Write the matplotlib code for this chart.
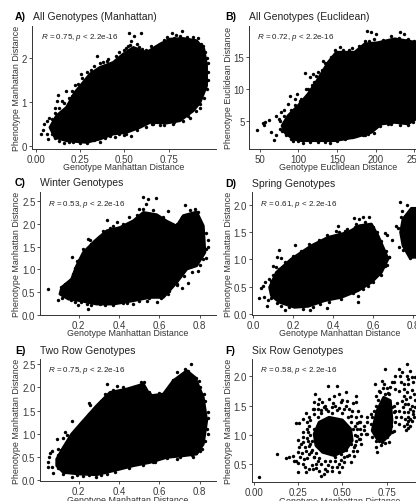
import matplotlib
matplotlib.use("Agg")
import matplotlib.pyplot as plt

W, H = 416, 502
plt.rcParams['font.family'] = ['Liberation Sans', 'DejaVu Sans']
plt.rcParams['mathtext.fontset'] = 'custom'
plt.rcParams['mathtext.it'] = 'Liberation Sans:italic'
plt.rcParams['mathtext.rm'] = 'Liberation Sans'

# Dense core outlines (x, y), plus separately visible points
a_core = [(.081,.426),(.118,.692),(.174,.882),(.221,1.224),(.268,1.452),(.306,1.643),(.362,1.795),(.437,1.909),(.493,2.099),(.55,2.251),(.625,2.137),(.70,2.327),(.756,2.441),(.831,2.456),(.906,2.403),(.947,2.213),(.962,1.833),(.962,1.376),(.925,.996),(.887,.806),(.812,.578),(.737,.525),(.644,.54),(.587,.426),(.512,.312),(.437,.274),(.362,.16),(.287,.084),(.174,.122),(.109,.198)]
a_pts = [(.028,.28),(.04,.37),(.05,.50),(.062,.58),(.068,.16),(.062,.27),(.075,.63),(.109,.88),(.122,1.03),(.146,1.02),(.128,1.16),(.169,1.26),(.203,1.15),(.221,1.39),(.255,1.64),(.31,1.74),(.343,2.06),(.381,1.91),(.40,1.95),(.475,2.02),(.527,2.57),(.555,2.52),(.591,2.57),(.537,2.40),(.522,2.29),(.508,2.23),(.568,2.33),(.597,2.21),(.649,2.29),(.69,2.14),(.765,2.57),(.79,2.53),(.824,2.62),(.887,2.48),(.916,2.46),(.944,2.29),(.966,2.02),(.287,.06),(.161,.07),(.133,.12),(.212,.10),(.362,.10),(.447,.21),(.497,.25),(.535,.22),(.653,.50),(.70,.48),(.775,.50),(.869,.65),(.925,.88),
(.09,.62),(.11,.76),(.13,.86),(.16,.98),(.19,1.1),(.205,1.25),(.24,1.42),(.26,1.56),(.29,1.68),(.33,1.83),(.36,1.9),(.41,1.98),(.45,2.05),(.47,2.14),(.50,2.2),(.53,2.3),(.58,2.25),(.62,2.2),(.67,2.27),(.72,2.42),(.74,2.5),(.78,2.47),(.81,2.52),(.85,2.5),(.89,2.43),(.93,2.33),(.955,2.15),(.968,1.9),(.97,1.7),(.972,1.5),(.965,1.3),(.945,1.1),(.925,.95),(.90,.8),(.86,.68),(.83,.58),(.78,.54),(.72,.47),(.66,.5),(.62,.44),(.57,.37),(.51,.27),(.47,.27),(.42,.22),(.39,.18),(.33,.14),(.25,.08),(.19,.09),(.11,.19),(.09,.28)]

b_core = [(78.9,4.22),(86.6,5.78),(99.6,7.34),(112.5,9.17),(125.4,11.5),(138.4,14.1),(149.1,15.7),(172.8,15.7),(185.8,17),(203,17.2),(224.6,17.8),(254.7,17.2),(262,17.2),(262,6),(241.8,4.5),(224.6,4.74),(207.3,4.48),(194.4,3.18),(172.8,2.4),(147,1.88),(125.4,1.88),(103.9,1.88),(93.1,2.14),(82.3,3.18)]
b_pts = [(47,3.6),(54,4.6),(57,4.8),(55.6,4.4),(62,5.05),(65,3.3),(68,2),(71.5,2.8),(71.5,5.7),(74.6,5.2),(78,6.3),(81.5,6.7),(86.6,7.6),(89.7,8.8),(96,8.4),(98.7,9.2),(101.7,8.1),(108,12.5),(110,9.9),(114.6,11.9),(119,12.3),(120,11),(125.4,12.6),(132,14.4),(129,11.3),(134,11.5),(138,13),(153.4,16.5),(166,16),(189,19),(194,18.8),(200,18.5),(192,17.5),(183,16.5),(231,18.8),(236.6,18.6),(242,17.8),(246,17),(106,1.5),(140.5,1.5),(93,1.9),(125,1.7),(183.6,2.8),(190,3),(99.6,2.1),(242,4.3),(216,4.5),(84.5,2.9),(79,3.4),
(76,4.9),(82,5.8),(90,6.6),(95,7.4),(104,8.4),(112,10),(118,10.6),(123,12),(130,12.9),(135,14),(142,15),(148,16.1),(158,16.1),(170,16.4),(178,16.6),(186,17.5),(198,17.8),(210,17.6),(220,18.2),(230,18),(240,17.6),(250,17.5),(248,4.8),(232,4.4),(220,4.5),(205,4.1),(198,3.1),(186,2.8),(170,2.4),(160,2.1),(150,1.8),(135,1.6),(115,1.7),(100,1.8),(90,2.2),(84,2.8),(76,3.7)]

c_core = [(.116,.60),(.165,.784),(.19,1.077),(.223,1.37),(.281,1.626),(.339,1.846),(.405,1.919),(.471,2.066),(.521,2.25),(.587,2.2),(.636,2.06),(.686,1.95),(.719,2.18),(.785,2.26),(.818,1.956),(.826,1.37),(.785,1.077),(.736,1.004),(.686,.711),(.62,.381),(.554,.381),(.471,.308),(.372,.234),(.289,.234),(.207,.308),(.149,.344),(.107,.454)]
c_pts = [(.046,.557),(.096,.322),(.119,.366),(.124,.637),(.169,1.267),(.19,1.187),(.182,.271),(.198,.22),(.246,.125),(.243,.234),(.248,1.663),(.256,1.64),(.339,2.088),(.388,2.05),(.355,1.897),(.517,2.579),(.545,2.542),(.582,2.564),(.534,2.432),(.521,2.32),(.57,2.31),(.645,2.286),(.62,2.14),(.727,2.418),(.777,2.322),(.802,1.993),(.843,1.648),(.831,1.443),(.815,1.223),(.793,.967),(.744,.696),(.711,.579),(.686,.674),(.67,.784),(.702,.857),(.645,.454),(.587,.271),(.537,.308),(.471,.234),(.421,.256),(.306,.234),(.372,.212),(.438,.308),
(.11,.62),(.13,.68),(.15,.72),(.17,.9),(.18,1.02),(.2,1.2),(.22,1.45),(.26,1.56),(.3,1.7),(.32,1.85),(.37,1.95),(.42,2.0),(.45,2.15),(.49,2.2),(.5,2.33),(.55,2.2),(.6,2.15),(.65,2.0),(.69,2.0),(.71,2.15),(.75,2.3),(.79,2.25),(.81,1.9),(.83,1.8),(.84,1.5),(.83,1.25),(.8,1.1),(.76,.95),(.72,.85),(.69,.65),(.65,.52),(.61,.37),(.55,.36),(.5,.3),(.44,.26),(.33,.22),(.26,.22),(.21,.27),(.16,.32),(.12,.42)]

d_core = [(.083,.488),(.117,.762),(.192,1.006),(.292,1.25),(.375,1.402),(.475,1.494),(.533,1.616),(.592,1.646),(.625,1.433),(.658,1.159),(.675,1.006),(.642,.762),(.592,.579),(.525,.427),(.442,.305),(.358,.244),(.275,.14),(.208,.122),(.133,.213),(.092,.335)]
d_core2 = [(.75,1.738),(.792,1.933),(.825,1.933),(.908,1.92),(.908,1.037),(.825,1.037),(.783,1.037),(.75,1.25),(.738,1.494)]
d_pts = [(.032,.293),(.042,.47),(.05,.518),(.058,.591),(.055,.305),(.072,.152),(.075,.256),(.078,.64),(.1,.884),(.117,.854),(.12,1.037),(.13,1.17),(.142,1.024),(.208,1.262),(.138,.152),(.162,.073),(.283,.073),(.372,.11),(.333,.183),(.425,1.604),(.458,1.524),(.417,1.524),(.503,1.762),(.528,1.738),(.55,1.78),(.578,1.768),(.517,1.646),(.658,1.476),(.67,1.451),(.695,1.354),(.678,1.037),(.658,.884),(.525,.213),(.525,.335),(.575,.518),(.737,2.043),(.772,2),(.717,1.616),(.725,1.567),(.728,1.22),(.75,1.171),(.783,1.018),(.747,1.89),(.742,1.768),(.767,1.19),
(.088,.6),(.1,.72),(.13,.83),(.16,.95),(.2,1.07),(.24,1.15),(.28,1.28),(.33,1.35),(.37,1.45),(.43,1.5),(.47,1.55),(.51,1.6),(.56,1.68),(.6,1.6),(.62,1.5),(.64,1.33),(.665,1.15),(.68,1.05),(.67,.9),(.64,.72),(.6,.58),(.55,.46),(.5,.38),(.44,.28),(.38,.22),(.3,.13),(.25,.1),(.18,.12),(.12,.2),(.09,.3)]

e_core = [(.091,.453),(.124,.705),(.165,.993),(.223,1.281),(.289,1.604),(.355,1.892),(.438,1.964),(.521,2.072),(.554,1.82),(.62,1.856),(.669,2.144),(.736,2.36),(.777,2.216),(.818,1.784),(.835,1.281),(.818,.777),(.785,.561),(.719,.525),(.636,.489),(.554,.381),(.471,.309),(.372,.201),(.289,.115),(.207,.129),(.124,.165),(.091,.309)]
e_pts = [(.046,.381),(.053,.489),(.058,.576),(.066,.633),(.046,.288),(.066,.273),(.074,.151),(.099,.669),(.091,.885),(.124,.899),(.132,1.029),(.169,1.281),(.14,.971),(.251,1.655),(.256,1.626),(.339,2.072),(.388,2.036),(.509,2.108),(.524,2.108),(.554,1.856),(.595,1.835),(.686,2.324),(.727,2.396),(.755,2.504),(.795,2.129),(.821,1.856),(.843,1.46),(.843,.993),(.81,.669),(.769,.504),(.165,.072),(.286,.072),(.339,.129),(.223,.094),(.57,.381),(.686,.453),
(.095,.55),(.11,.65),(.14,.8),(.16,.92),(.19,1.13),(.21,1.24),(.25,1.42),(.27,1.52),(.31,1.7),(.33,1.85),(.37,1.95),(.42,2.0),(.47,1.98),(.51,2.05),(.55,1.9),(.6,1.88),(.64,1.95),(.67,2.17),(.71,2.25),(.74,2.35),(.78,2.2),(.8,2.0),(.825,1.7),(.84,1.35),(.835,1.1),(.825,.85),(.8,.63),(.76,.54),(.7,.5),(.64,.47),(.58,.4),(.52,.33),(.45,.27),(.38,.18),(.31,.11),(.25,.1),(.19,.11),(.12,.14),(.095,.25)]

f_core = [(.341,1.017),(.369,1.216),(.425,1.301),(.5,1.256),(.547,1.102),(.556,.903),(.518,.733),(.453,.648),(.388,.705),(.351,.818)]
f_core2 = [(.668,1.074),(.696,1.415),(.733,1.642),(.771,1.585),(.78,1.244),(.771,1.017),(.733,.903),(.696,.932)]
f_pts = [(.032,.29),(.132,.676),(.183,.614),(.2,.63),(.22,.648),(.248,.705),(.257,.79),(.239,.563),(.226,.563),(.252,.517),(.248,.364),(.295,.364),(.313,.42),(.332,.42),(.276,.506),(.285,.591),(.295,.733),(.267,.847),(.304,.903),(.276,.96),(.304,1.045),(.239,1.205),(.257,1.205),(.276,1.273),(.295,1.369),(.313,1.301),(.332,1.443),(.345,1.699),(.341,1.557),(.37,1.614),(.388,1.557),(.398,1.472),(.42,1.841),(.468,1.83),(.425,1.614),(.453,1.67),(.481,1.699),(.518,1.727),(.575,1.67),(.575,1.557),(.528,1.585),(.491,1.557),(.444,1.472),(.509,1.443),(.556,1.415),(.575,1.301),(.603,1.33),(.593,1.216),(.621,1.159),(.584,1.102),(.603,1.017),(.631,1.017),(.575,.903),(.603,.847),(.584,.733),(.565,.648),(.547,.534),(.509,.534),(.481,.364),(.444,.392),(.397,.335),(.382,.307),(.369,.392),(.416,.392),(.351,.506),(.341,.619),(.323,.705),(.313,.818),(.481,.506),(.528,.648),(.565,.79),(.593,.932),(.64,1.216),
(.34,1.1),(.36,1.3),(.38,1.42),(.41,1.45),(.44,1.38),(.47,1.42),(.5,1.37),(.53,1.3),(.55,1.22),(.56,1.1),(.57,1.0),(.55,.85),(.52,.75),(.49,.68),(.46,.62),(.43,.56),(.40,.55),(.37,.6),(.35,.7),(.33,.9),(.32,1.0),(.3,.95),(.31,1.15),(.29,.8),(.27,.7),(.6,1.1),(.58,1.2),(.52,1.5),(.46,1.5),(.4,1.5),(.36,1.45),(.34,1.35),
(.3,1.1),(.28,1.05),(.32,1.25),(.3,1.22),(.34,1.45),(.36,1.52),(.38,1.38),(.42,1.4),(.45,1.55),(.48,1.46),(.5,1.6),(.54,1.45),(.56,1.55),(.55,1.33),(.59,1.4),(.57,1.15),(.6,1.22),(.62,1.08),(.58,.98),(.6,.93),(.57,.82),(.56,.72),(.54,.66),(.51,.62),(.49,.58),(.46,.55),(.42,.48),(.38,.5),(.36,.55),(.34,.62),(.33,.75),(.31,.68),(.3,.6),(.26,.62),(.28,.88),(.32,.85),(.25,.92),(.33,.48),(.4,.42),(.44,.45),(.47,.45),(.5,.45),(.29,.45),(.35,.43),
(.739,2.125),(.683,1.869),(.724,1.926),(.737,1.869),(.78,1.898),(.771,1.812),(.705,1.756),(.687,1.67),(.659,1.358),(.64,1.301),(.659,1.188),(.64,1.017),(.668,.96),(.687,.903),(.696,.705),(.692,.79),(.705,.892),(.761,.875),(.789,1.074),(.799,1.216),(.817,1.188),(.78,1.472),(.789,1.386),(.678,1.415),(.715,1.727),(.743,1.699),(.761,1.699),(.687,1.244),(.752,.96),(.724,.875),(.677,1.045),(.776,1.159),(.767,1.301),
(.69,1.5),(.7,1.3),(.68,1.12),(.69,1.02),(.72,.82),(.74,.86),(.75,1.8),(.73,1.8),(.72,1.55),(.76,1.72),(.79,1.5),(.8,1.3),(.78,1.05),(.7,1.6),(.67,1.3),
(.864,2.21),(.821,2.125),(.836,2.068),(.882,2.097),(.799,2),(.825,2.011),(.864,2),(.892,1.983),(.91,1.983),(.845,1.869),(.873,1.869),(.901,1.898),(.817,1.756),(.799,1.784),(.845,1.67),(.864,1.727),(.882,1.642),(.905,1.699),(.836,1.585),(.854,1.528),(.873,1.528),(.892,1.5),(.91,1.472),(.799,1.415),(.817,1.415),(.845,1.386),(.873,1.386),(.901,1.415),(.854,1.273),(.873,1.301),(.892,1.244),(.864,1.188),(.882,1.159),(.873,1.114),(.905,1.301),
(.85,1.78),(.83,1.9),(.87,1.95),(.89,1.76),(.91,1.6),(.86,1.62),(.84,1.48),(.88,1.45),(.9,1.35),(.87,1.23),(.85,1.15),(.88,1.28),(.86,1.08),(.83,1.3),(.81,1.55),(.79,1.9)]

labels = ['A)', 'B)', 'C)', 'D)', 'E)', 'F)']
titles = ['All Genotypes (Manhattan)', 'All Genotypes (Euclidean)', 'Winter Genotypes',
          'Spring Genotypes', 'Two Row Genotypes', 'Six Row Genotypes']
stats = ['0.75', '0.72', '0.53', '0.61', '0.75', '0.58']
xlabels = ['Genotype Manhattan Distance', 'Genotype Euclidean Distance'] + ['Genotype Manhattan Distance'] * 4
ylabels = ['Phenotype Manhattan Distance', 'Phenotype Euclidean Distance'] + ['Phenotype Manhattan Distance'] * 4
xticks = [[0, .25, .5, .75], [50, 100, 150, 200, 250], [.2, .4, .6, .8], [0, .2, .4, .6, .8], [.2, .4, .6, .8], [0, .25, .5, .75]]
xticklabels = [['0.00', '0.25', '0.50', '0.75'], ['50', '100', '150', '200', '250'], ['0.2', '0.4', '0.6', '0.8'],
               ['0.0', '0.2', '0.4', '0.6', '0.8'], ['0.2', '0.4', '0.6', '0.8'], ['0.00', '0.25', '0.50', '0.75']]
yticks = [[0, 1, 2], [5, 10, 15], [0, .5, 1, 1.5, 2, 2.5], [0, .5, 1, 1.5, 2], [0, .5, 1, 1.5, 2, 2.5], [.5, 1, 1.5, 2]]
yticklabels = [['0', '1', '2'], ['5', '10', '15'], ['0.0', '0.5', '1.0', '1.5', '2.0', '2.5'],
               ['0.0', '0.5', '1.0', '1.5', '2.0'], ['0.0', '0.5', '1.0', '1.5', '2.0', '2.5'], ['0.5', '1.0', '1.5', '2.0']]
cores = [[a_core], [b_core], [c_core], [d_core, d_core2], [e_core], [f_core, f_core2]]
points = [a_pts, b_pts, c_pts, d_pts, e_pts, f_pts]

# layout, in reference pixels: left, right, top, bottom
boxes = [(32, 216, 27, 149.7), (249.3, 427, 27, 149.7), (40.3, 216, 193, 315.7),
         (251.7, 428, 193, 315.7), (40.3, 216, 360, 482), (251.7, 428, 360, 483)]
xlims = [(-.02, 1.015), (36.5, 266.4), (.0096, .881), (-.0065, .875), (.0096, .881), (-.011, .983)]
ylims = [(-.06, 2.74), (.625, 19.8), (0, 2.70), (-.013, 2.232), (-.02, 2.613), (.198, 2.294)]
label_x = [15, 225.7, 15, 225.7, 15, 225.7]
title_x = [33, 249, 40, 252, 40, 252]
title_y = [17, 17, 183, 183.6, 350.7, 350.7]
note_x = [41, 257.3, 48.3, 259.7, 48.3, 259.7]
note_y = [37.7, 37.7, 204.3, 204.3, 371, 371]

fig = plt.figure(figsize=(W / 100, H / 100), dpi=100)
dark = '#333333'
for i in range(6):
    l, r, t, b = boxes[i]
    ax = fig.add_axes([l / W, 1 - b / H, (r - l) / W, (b - t) / H])
    for core in cores[i]:
        ax.fill(*zip(*core), facecolor='black', edgecolor='black', linewidth=2, joinstyle='round')
    ax.scatter(*zip(*points[i]), s=6, c='black', linewidths=0)
    ax.set_xlim(*xlims[i])
    ax.set_ylim(*ylims[i])
    ax.spines[['top', 'right']].set_visible(False)
    ax.spines[['left', 'bottom']].set_linewidth(0.7)
    ax.spines[['left', 'bottom']].set_color(dark)
    ax.set_xticks(xticks[i], xticklabels[i])
    ax.set_yticks(yticks[i], yticklabels[i])
    ax.tick_params(length=2, width=0.6, color=dark, labelcolor='#3a3a3a', labelsize=7, pad=1.5)
    ax.set_xlabel(xlabels[i], fontsize=6.4, color='#333333', labelpad=-0.8)
    ax.set_ylabel(ylabels[i], fontsize=6.4, color='#333333', labelpad=0.5)
    fig.text(label_x[i] / W, 1 - title_y[i] / H, labels[i], fontsize=7.6, fontweight='bold', va='center')
    fig.text(title_x[i] / W, 1 - title_y[i] / H, titles[i], fontsize=7.5, color='#222222', va='center')
    fig.text(note_x[i] / W, 1 - note_y[i] / H, rf'$\mathit{{R}}$ = {stats[i]}, $\mathit{{p}}$ < 2.2e-16',
             fontsize=5.8, color='#222222', va='center')

fig.savefig('out.png', dpi=100)
